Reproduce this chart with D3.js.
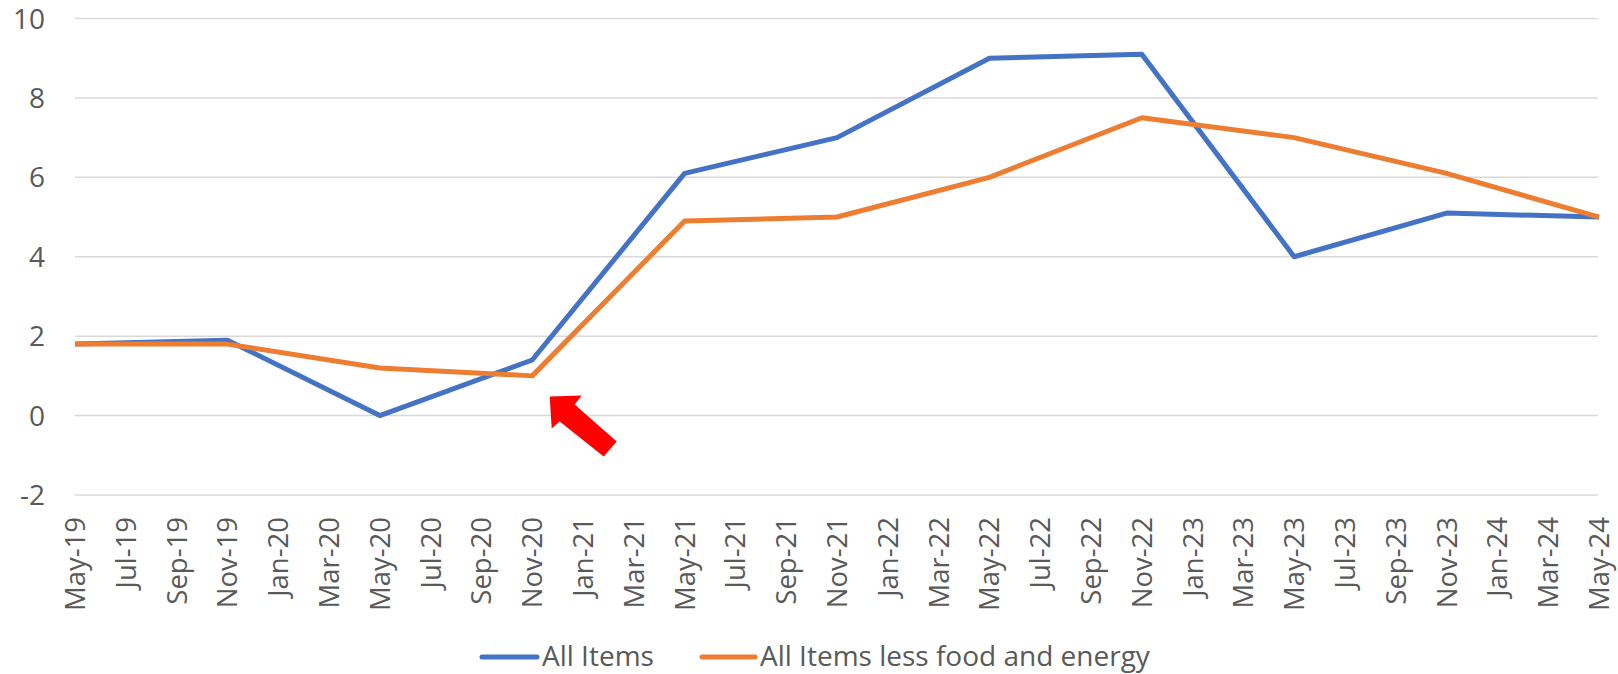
<!DOCTYPE html>
<html>
<head>
<meta charset="utf-8">
<script src="https://cdn.jsdelivr.net/npm/d3@7/dist/d3.min.js"></script>
<style>
  html, body { margin: 0; padding: 0; background: #ffffff; }
  svg text { font-family: "Open Sans", "Noto Sans", sans-serif; fill: #595959; }
</style>
</head>
<body>
<svg id="chart" width="1618" height="674"></svg>
<script>
const tickLabels = ["May-19","Jul-19","Sep-19","Nov-19","Jan-20","Mar-20","May-20","Jul-20","Sep-20","Nov-20",
  "Jan-21","Mar-21","May-21","Jul-21","Sep-21","Nov-21","Jan-22","Mar-22","May-22","Jul-22","Sep-22","Nov-22",
  "Jan-23","Mar-23","May-23","Jul-23","Sep-23","Nov-23","Jan-24","Mar-24","May-24"];
const dates = ["May-19","Nov-19","May-20","Nov-20","May-21","Nov-21","May-22","Nov-22","May-23","Nov-23","May-24"];
const allItems = [1.8, 1.9, 0.0, 1.4, 6.1, 7.0, 9.0, 9.1, 4.0, 5.1, 5.0];
const coreItems = [1.8, 1.8, 1.2, 1.0, 4.9, 5.0, 6.0, 7.5, 7.0, 6.1, 5.0];
const yTicks = [-2, 0, 2, 4, 6, 8, 10];
const seriesNames = ["All Items", "All Items less food and energy"];
const seriesColors = ["#4472C4", "#ED7D31"];

const svg = d3.select("#chart");
const x = d3.scalePoint().domain(tickLabels).range([75, 1599]);
const y = d3.scaleLinear().domain([-2, 10]).range([495, 18.5]);

// gridlines
svg.append("g").selectAll("line").data(yTicks).join("line")
  .attr("x1", 75).attr("x2", 1598)
  .attr("y1", d => y(d)).attr("y2", d => y(d))
  .attr("stroke", "#D9D9D9").attr("stroke-width", 1.5);

// y labels
svg.append("g").selectAll("text").data(yTicks).join("text")
  .attr("x", 45).attr("y", d => y(d)).attr("dy", "0.36em")
  .attr("text-anchor", "end").attr("font-size", 28)
  .text(d => d);

// x labels
svg.append("g").selectAll("text").data(tickLabels).join("text")
  .attr("transform", d => `translate(${x(d)},517) rotate(-90)`)
  .attr("dy", "0.36em").attr("text-anchor", "end").attr("font-size", 27.5)
  .text(d => d);

// lines
const line = d3.line().x(d => x(d[0])).y(d => y(d[1]));
[allItems, coreItems].forEach((vals, i) => {
  svg.append("path")
    .datum(dates.map((dt, j) => [dt, vals[j]]))
    .attr("d", line)
    .attr("fill", "none")
    .attr("stroke", seriesColors[i])
    .attr("stroke-width", 5)
    .attr("stroke-linejoin", "round");
});

// arrow annotation anchored to Nov-20 / 0
const ax = x("Nov-20"), ay = y(0);
const arrowPts = [[17.5,-19],[49.5,-20],[42.5,-11],[84.5,26],[71.5,41],[27.5,6],[19.5,13]];
svg.append("path")
  .attr("d", "M" + arrowPts.map(p => [ax + p[0], ay + p[1]].join(",")).join("L") + "Z")
  .attr("fill", "#FF0000");

// legend
const legendItems = [
  {name: seriesNames[0], color: seriesColors[0], x1: 482, x2: 537, tx: 542},
  {name: seriesNames[1], color: seriesColors[1], x1: 702, x2: 755, tx: 760}
];
const lg = svg.append("g");
legendItems.forEach(it => {
  lg.append("line").attr("x1", it.x1).attr("x2", it.x2).attr("y1", 657).attr("y2", 657)
    .attr("stroke", it.color).attr("stroke-width", 5).attr("stroke-linecap", "round");
  lg.append("text").attr("x", it.tx).attr("y", 666).attr("font-size", 28).text(it.name);
});
</script>
</body>
</html>
